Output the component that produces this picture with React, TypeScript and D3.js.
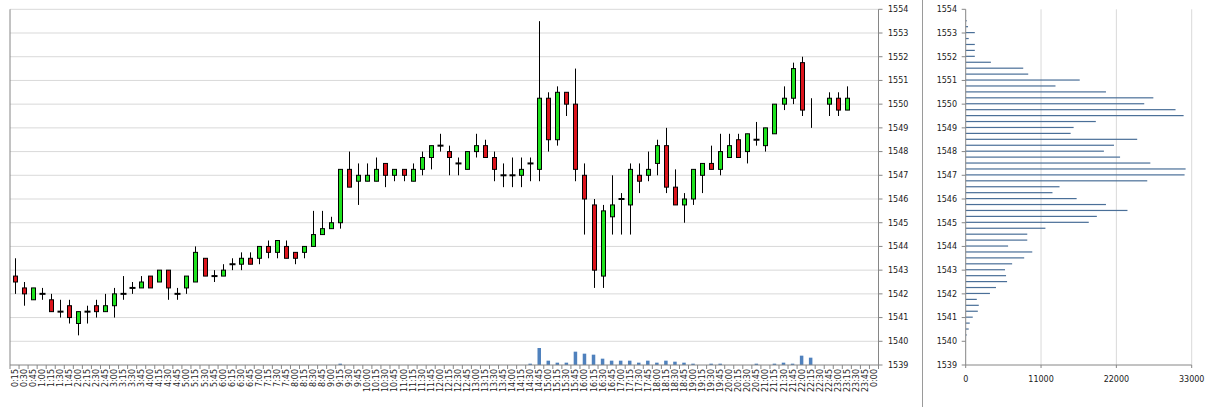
import React from "react";
import * as d3 from "d3";

const times: string[] = [
  "0:15","0:30","0:45","1:00","1:15","1:30","1:45","2:00","2:15","2:30","2:45","3:00",
  "3:15","3:30","3:45","4:00","4:15","4:30","4:45","5:00","5:15","5:30","5:45","6:00",
  "6:15","6:30","6:45","7:00","7:15","7:30","7:45","8:00","8:15","8:30","8:45","9:00",
  "9:15","9:30","9:45","10:00","10:15","10:30","10:45","11:00","11:15","11:30","11:45","12:00",
  "12:15","12:30","12:45","13:00","13:15","13:30","13:45","14:00","14:15","14:30","14:45","15:00",
  "15:15","15:30","15:45","16:00","16:15","16:30","16:45","17:00","17:15","17:30","17:45","18:00",
  "18:15","18:30","18:45","19:00","19:15","19:30","19:45","20:00","20:15","20:30","20:45","21:00",
  "21:15","21:30","21:45","22:00","22:15","22:30","22:45","23:00","23:15","23:30","23:45","0:00"
];

type N = number | null;

const openP: N[] = [
  1542.75,1542.25,1541.75,1542.0,1541.75,1541.25,1541.5,1540.75,1541.25,1541.5,1541.25,1541.5,
  1542.0,1542.25,1542.25,1542.75,1542.5,1543.0,1542.0,1542.25,1542.5,1543.5,1542.75,1542.75,
  1543.25,1543.25,1543.5,1543.5,1544.0,1543.75,1544.0,1543.75,1543.75,1544.0,1544.5,1544.75,
  1545.0,1547.25,1546.75,1546.75,1546.75,1547.5,1547.0,1547.25,1546.75,1547.25,1547.75,1548.25,
  1548.0,1547.5,1547.25,1548.0,1548.25,1547.75,1547.0,1547.0,1547.0,1547.5,1547.25,1550.25,
  1548.5,1550.5,1550.0,1547.0,1545.75,1542.75,1545.25,1546.0,1545.75,1547.0,1547.0,1547.5,
  1548.25,1546.5,1545.75,1546.0,1547.0,1547.5,1547.25,1547.75,1548.5,1548.0,1548.5,1548.25,
  1548.75,1550.0,1550.25,1551.75,null,null,1550.0,1550.25,1549.75,null,null,null
];
const highP: N[] = [
  1543.5,1542.5,1542.25,1542.25,1542.0,1541.75,1541.75,1541.25,1541.5,1541.75,1542.0,1542.25,
  1542.75,1542.5,1542.75,1542.75,1543.0,1543.0,1542.25,1542.75,1544.0,1543.5,1543.0,1543.25,
  1543.5,1543.75,1543.75,1544.0,1544.25,1544.25,1544.25,1543.75,1544.0,1545.5,1545.5,1545.25,
  1547.25,1548.0,1547.5,1547.5,1547.75,1547.5,1547.25,1547.25,1547.5,1548.0,1548.25,1548.75,
  1548.25,1547.75,1548.0,1548.75,1548.5,1548.0,1547.5,1547.75,1547.75,1547.75,1553.5,1550.5,
  1550.75,1550.5,1551.5,1547.5,1546.0,1545.75,1547.0,1546.25,1547.5,1547.5,1548.0,1548.5,
  1549.0,1547.25,1546.25,1547.25,1547.5,1548.25,1548.75,1548.75,1548.75,1548.75,1549.25,1549.0,
  1550.0,1550.75,1551.75,1552.0,1550.25,null,1550.5,1550.5,1550.75,null,null,null
];
const lowP: N[] = [
  1542.0,1541.5,1541.75,1541.75,1541.25,1541.0,1540.75,1540.25,1540.75,1541.0,1541.25,1541.0,
  1541.75,1542.0,1542.25,1542.25,1542.5,1541.75,1541.75,1542.0,1542.5,1542.75,1542.5,1542.75,
  1543.0,1543.0,1543.25,1543.25,1543.5,1543.5,1543.5,1543.25,1543.5,1544.0,1544.5,1544.75,
  1544.75,1546.5,1545.75,1546.75,1546.75,1546.5,1546.75,1546.75,1546.75,1547.0,1547.25,1548.0,
  1547.0,1547.0,1547.25,1547.75,1547.75,1546.75,1546.5,1546.5,1546.5,1546.75,1546.75,1548.0,
  1548.25,1549.5,1546.75,1544.5,1542.25,1542.25,1544.5,1544.5,1544.5,1546.25,1546.75,1547.0,
  1546.25,1545.75,1545.0,1545.75,1546.25,1547.25,1547.0,1547.75,1547.75,1547.5,1548.25,1548.0,
  1548.75,1549.75,1550.0,1549.5,1549.0,null,1549.5,1549.5,1549.75,null,null,null
];
const closeP: N[] = [
  1542.5,1542.0,1542.25,1542.0,1541.25,1541.25,1541.0,1541.25,1541.25,1541.25,1541.5,1542.0,
  1542.0,1542.25,1542.5,1542.25,1543.0,1542.25,1542.0,1542.75,1543.75,1542.75,1542.75,1543.0,
  1543.25,1543.5,1543.25,1544.0,1543.75,1544.25,1543.5,1543.5,1544.0,1544.5,1544.75,1545.0,
  1547.25,1546.5,1547.0,1547.0,1547.25,1547.0,1547.25,1547.0,1547.25,1547.75,1548.25,1548.25,
  1547.75,1547.5,1548.0,1548.25,1547.75,1547.25,1547.0,1547.0,1547.25,1547.5,1550.25,1548.5,
  1550.5,1550.0,1547.25,1546.0,1543.0,1545.5,1545.75,1546.0,1547.25,1546.75,1547.25,1548.25,
  1546.5,1545.75,1546.0,1547.25,1547.5,1547.25,1548.0,1548.25,1547.75,1548.75,1548.5,1549.0,
  1550.0,1550.25,1551.5,1549.75,null,null,1550.25,1549.75,1550.25,null,null,null
];
const volume: number[] = [
  0,0,0,0,0,0,0,0,0,0,0,0,
  0,0,0,0,0,0,0,0,0,0,0,0,
  0,0,0,0,0,0,0,0,0,0,0,0,
  400,0,0,0,0,0,0,0,0,0,0,0,
  0,0,0,0,0,0,0,0,0,400,5100,1300,
  700,700,4000,3400,3100,1900,1300,1300,1300,700,1300,700,
  1300,1000,700,400,0,400,400,0,0,0,400,0,
  400,700,400,2800,2200,0,0,0,0,0,0,0
];

const priceTicks: number[] = [1539,1540,1541,1542,1543,1544,1545,1546,1547,1548,1549,1550,1551,1552,1553,1554];

const profileLevels: number[] = [
  1540.25,1540.5,1540.75,1541,1541.25,1541.5,1541.75,1542,1542.25,1542.5,1542.75,1543,
  1543.25,1543.5,1543.75,1544,1544.25,1544.5,1544.75,1545,1545.25,1545.5,1545.75,1546,
  1546.25,1546.5,1546.75,1547,1547.25,1547.5,1547.75,1548,1548.25,1548.5,1548.75,1549,
  1549.25,1549.5,1549.75,1550,1550.25,1550.5,1550.75,1551,1551.25,1551.5,1551.75,1552,
  1552.25,1552.5,1552.75,1553,1553.25,1553.5
];
const profileVolume: number[] = [
  150,440,590,1030,1770,1910,1620,3540,4420,6040,5890,5740,
  6780,8540,9720,6190,8990,8990,11640,17970,19150,23620,20480,16200,
  12670,13700,26510,31960,32110,26960,22540,20180,21650,25040,15320,15760,
  19000,31820,30640,26070,27400,20480,13110,16650,9130,8400,3680,1330,
  1330,1330,440,1330,340,150
];
const profileTicks: number[] = [0, 11000, 22000, 33000];

const FONT = "'DejaVu Sans', sans-serif";

export default function App() {
  const W = 1210, H = 407;
  const left = 10, right = 878.5, top = 9.3, bottom = 365;

  const x = d3.scaleBand<string>().domain(times).range([left, right]).paddingInner(0).paddingOuter(0);
  const y = d3.scaleLinear().domain([1539, 1554]).range([bottom, top]);
  const v = d3.scaleLinear().domain([0, 30000]).range([0, 100]);

  const px0 = 965.7, px1 = 1191.7;
  const xp = d3.scaleLinear().domain([0, 33000]).range([px0, px1]);

  const bw = x.bandwidth();
  const bodyW = 4;
  const up = "#1ee21e";
  const down = "#dc141c";

  return (
    <svg width={W} height={H} style={{ position: "absolute", left: 0, top: 0, background: "#fff" }}
      fontFamily={FONT}>
      <rect x={0} y={0} width={W} height={H} fill="#fff" />
      {/* left chart gridlines */}
      {priceTicks.filter(t => t !== 1539).map(t => (
        <line key={"g" + t} x1={left} x2={right} y1={y(t)} y2={y(t)} stroke="#d9d9d9" strokeWidth={1} />
      ))}
      {/* volume bars */}
      {times.map((t, i) => volume[i] > 0 ? (
        <rect key={"v" + i} x={(x(t) as number) + bw / 2 - 1.75} width={3.5}
          y={bottom - v(volume[i])} height={v(volume[i])} fill="#4f81bd" />
      ) : null)}
      {/* candles */}
      {times.map((t, i) => {
        const cx = Math.round((x(t) as number) + bw / 2) + 0.5;
        const h = highP[i], l = lowP[i], o = openP[i], c = closeP[i];
        const parts: any[] = [];
        if (h !== null && l !== null) {
          parts.push(<line key="w" x1={cx} x2={cx} y1={y(h)} y2={y(l)} stroke="#000" strokeWidth={1} />);
        }
        if (o !== null && c !== null) {
          if (o === c) {
            parts.push(<line key="d" x1={cx - 3} x2={cx + 3} y1={y(o)} y2={y(o)} stroke="#000" strokeWidth={2} />);
          } else {
            const yt = y(Math.max(o, c)), yb = y(Math.min(o, c));
            parts.push(<rect key="b" x={cx - bodyW / 2} y={yt} width={bodyW} height={yb - yt}
              fill={c > o ? up : down} stroke="#000" strokeWidth={1} />);
          }
        }
        return <g key={"c" + i}>{parts}</g>;
      })}
      {/* axes of left chart */}
      <line x1={left} x2={left} y1={top} y2={bottom} stroke="#868686" />
      <line x1={right} x2={right} y1={top} y2={bottom} stroke="#868686" />
      <line x1={left} x2={right} y1={bottom} y2={bottom} stroke="#868686" />
      {times.map((t, i) => (
        <line key={"xt" + i} x1={(x(t) as number)} x2={(x(t) as number)} y1={bottom} y2={bottom + 4} stroke="#868686" />
      ))}
      <line x1={right} x2={right} y1={bottom} y2={bottom + 4} stroke="#868686" />
      {priceTicks.map(t => (
        <g key={"yt" + t}>
          <line x1={right} x2={right + 4} y1={y(t)} y2={y(t)} stroke="#868686" />
          <text x={888} y={y(t)} dy="0.35em" fontSize={8} fill="#1a1a1a">{t}</text>
        </g>
      ))}
      {times.map((t, i) => {
        const cx = (x(t) as number) + bw / 2;
        return (
          <text key={"xl" + i} transform={`translate(${cx + 3},${bottom + 4}) rotate(-90)`}
            textAnchor="end" fontSize={8} fill="#1a1a1a">{t}</text>
        );
      })}

      {/* divider */}
      <line x1={922.5} x2={922.5} y1={0} y2={H} stroke="#9a9a9a" />

      {/* right chart: volume profile */}
      {profileTicks.filter(t => t > 0).map(t => (
        <line key={"pg" + t} x1={xp(t)} x2={xp(t)} y1={top} y2={bottom} stroke="#d9d9d9" />
      ))}
      {profileLevels.map((lv, i) => (
        <rect key={"pb" + i} x={px0} y={y(lv) - 1} width={xp(profileVolume[i]) - px0} height={1.2} fill="#4a6f98" />
      ))}
      <line x1={px0} x2={px0} y1={top} y2={bottom} stroke="#868686" />
      <line x1={px0} x2={px1} y1={bottom} y2={bottom} stroke="#868686" />
      {priceTicks.map(t => (
        <g key={"pyt" + t}>
          <line x1={px0 - 4} x2={px0} y1={y(t)} y2={y(t)} stroke="#868686" />
          <text x={957} y={y(t)} dy="0.35em" textAnchor="end" fontSize={8} fill="#1a1a1a">{t}</text>
        </g>
      ))}
      {profileTicks.map(t => (
        <g key={"pxt" + t}>
          <line x1={xp(t)} x2={xp(t)} y1={bottom} y2={bottom + 3} stroke="#868686" />
          <text x={xp(t)} y={379} dy="0.35em" textAnchor="middle" fontSize={8} fill="#1a1a1a">{t}</text>
        </g>
      ))}
    </svg>
  );
}
